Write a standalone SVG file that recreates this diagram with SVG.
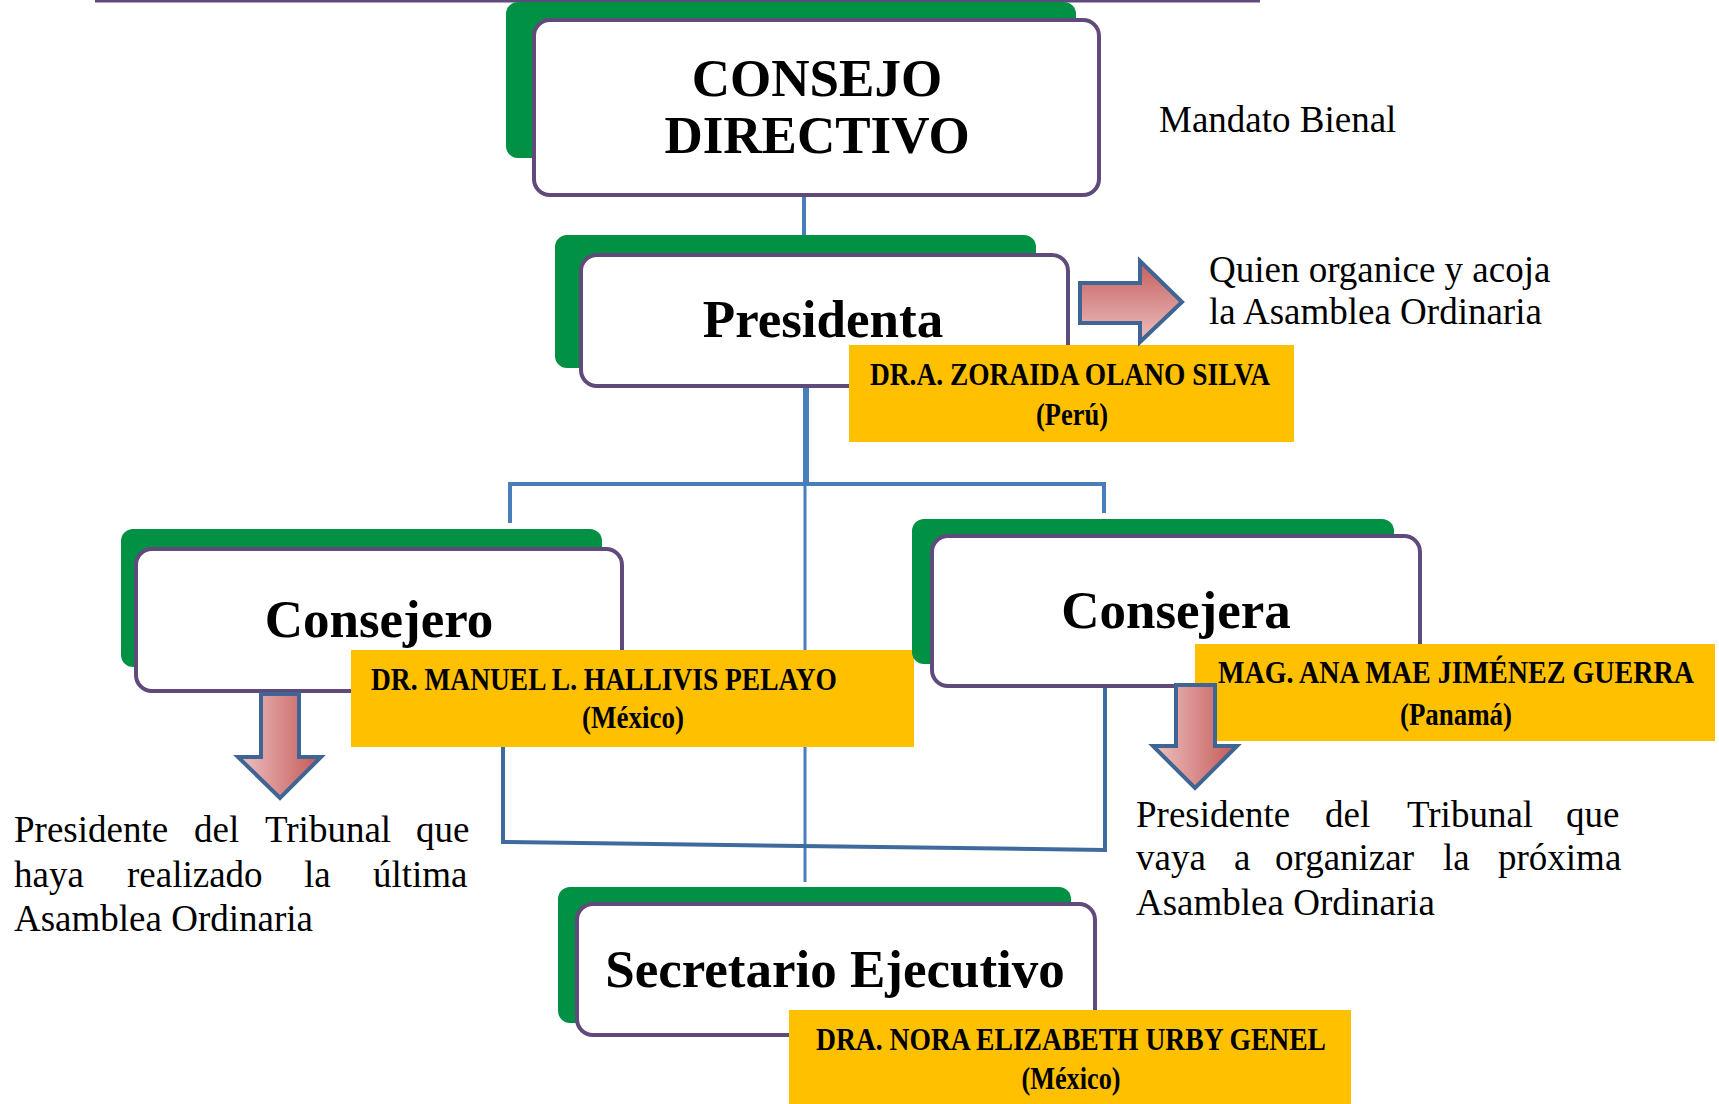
<svg xmlns="http://www.w3.org/2000/svg" width="1719" height="1104" viewBox="0 0 1719 1104">
  <defs>
    <linearGradient id="gradR" x1="0" y1="0" x2="0" y2="1">
      <stop offset="0" stop-color="#C65E5C"/>
      <stop offset="1" stop-color="#EBC0BF"/>
    </linearGradient>
    <linearGradient id="gradD" x1="0" y1="0" x2="1" y2="0">
      <stop offset="0" stop-color="#EDC3C2"/>
      <stop offset="1" stop-color="#C45856"/>
    </linearGradient>
    <style>
      .green{fill:#009145;}
      .box{fill:#FFFFFF;stroke:#604A7B;stroke-width:4;}
      .yellow{fill:#FFC000;}
      .title{font-family:"Liberation Serif","Times New Roman",serif;font-weight:bold;font-size:53px;fill:#000;text-anchor:middle;}
      .name{font-family:"Liberation Serif","Times New Roman",serif;font-weight:bold;font-size:31px;fill:#000;}
      .mid{text-anchor:middle;}
      .note{font-family:"Liberation Serif","Times New Roman",serif;font-size:37px;fill:#000;}
      .conn{stroke:#4A7EBB;fill:none;}
      .conn2{stroke:#3F6A9E;fill:none;stroke-width:4;}
      .arrow{stroke:#3E6593;stroke-width:4;stroke-linejoin:miter;}
    </style>
  </defs>
  <rect width="1719" height="1104" fill="#FFFFFF"/>

  <line x1="95" y1="1" x2="1260" y2="1" stroke="#604A7B" stroke-width="3"/>

  <g id="connectors">
    <line class="conn" x1="804" y1="197" x2="804" y2="236" stroke-width="4"/>
    <line class="conn" x1="806" y1="388" x2="806" y2="484" stroke-width="6"/>
    <polyline class="conn" points="510,523 510,484 1104,484 1104,513" stroke-width="4"/>
    <line class="conn" x1="805" y1="484" x2="805" y2="882" stroke-width="3"/>
    <polyline class="conn2" points="503,747 503,842 1105,850 1105,688"/>
  </g>

  <g id="consejo-directivo">
    <rect class="green" x="506" y="2" width="570" height="156" rx="12"/>
    <rect class="box" x="534" y="20" width="565" height="175" rx="16"/>
    <text class="title" x="817" y="96">CONSEJO</text>
    <text class="title" x="817" y="153">DIRECTIVO</text>
  </g>

  <g id="presidenta">
    <rect class="green" x="555" y="235" width="481" height="133" rx="12"/>
    <rect class="box" x="581" y="255" width="487" height="131" rx="16"/>
    <text class="title" x="823" y="337">Presidenta</text>
    <rect class="yellow" x="849" y="345" width="445" height="97"/>
    <text class="name mid" x="1070" y="385" textLength="400" lengthAdjust="spacingAndGlyphs">DR.A. ZORAIDA OLANO SILVA</text>
    <text class="name mid" x="1072" y="425" textLength="72" lengthAdjust="spacingAndGlyphs">(Perú)</text>
  </g>

  <g id="consejero">
    <rect class="green" x="121" y="529" width="481" height="138" rx="12"/>
    <rect class="box" x="136" y="549" width="486" height="142" rx="16"/>
    <text class="title" x="379" y="637">Consejero</text>
    <rect class="yellow" x="351" y="650" width="563" height="97"/>
    <text class="name mid" x="604" y="690" textLength="466" lengthAdjust="spacingAndGlyphs">DR. MANUEL L. HALLIVIS PELAYO</text>
    <text class="name mid" x="633" y="728" textLength="102" lengthAdjust="spacingAndGlyphs">(México)</text>
  </g>

  <g id="consejera">
    <rect class="green" x="912" y="519" width="482" height="145" rx="12"/>
    <rect class="box" x="932" y="536" width="488" height="150" rx="16"/>
    <text class="title" x="1176" y="628">Consejera</text>
    <rect class="yellow" x="1195" y="644" width="520" height="97"/>
    <text class="name mid" x="1456" y="683" textLength="476" lengthAdjust="spacingAndGlyphs">MAG. ANA MAE JIMÉNEZ GUERRA</text>
    <text class="name mid" x="1456" y="725" textLength="112" lengthAdjust="spacingAndGlyphs">(Panamá)</text>
  </g>

  <g id="secretario-ejecutivo">
    <rect class="green" x="558" y="887" width="513" height="136" rx="12"/>
    <rect class="box" x="577" y="904" width="518" height="131" rx="16"/>
    <text class="title" x="835" y="987">Secretario Ejecutivo</text>
    <rect class="yellow" x="789" y="1010" width="562" height="94"/>
    <text class="name mid" x="1071" y="1050" textLength="510" lengthAdjust="spacingAndGlyphs">DRA. NORA ELIZABETH URBY GENEL</text>
    <text class="name mid" x="1071" y="1089" textLength="99" lengthAdjust="spacingAndGlyphs">(México)</text>
  </g>

  <g id="nota-mandato">
    <text class="note" x="1159" y="132">Mandato Bienal</text>
  </g>

  <g id="nota-presidenta">
    <path class="arrow" fill="url(#gradR)" d="M1080,283 H1140 V261 L1182,302 L1140,342 V323 H1080 Z"/>
    <text class="note" x="1209" y="282">Quien organice y acoja</text>
    <text class="note" x="1209" y="324">la Asamblea Ordinaria</text>
  </g>

  <g id="nota-consejero">
    <path class="arrow" fill="url(#gradD)" d="M261,694 H299 V757 H321 L280,798 L238,757 H261 Z"/>
    <text class="note" y="842"><tspan x="14">Presidente</tspan> <tspan x="194">del</tspan> <tspan x="265">Tribunal</tspan> <tspan x="416">que</tspan></text>
    <text class="note" y="887"><tspan x="14">haya</tspan> <tspan x="127">realizado</tspan> <tspan x="304">la</tspan> <tspan x="373">última</tspan></text>
    <text class="note" x="14" y="931">Asamblea Ordinaria</text>
  </g>

  <g id="nota-consejera">
    <path class="arrow" fill="url(#gradD)" d="M1176,685 H1215 V746 H1237 L1195,788 L1153,746 H1176 Z"/>
    <text class="note" y="827"><tspan x="1136">Presidente</tspan> <tspan x="1325">del</tspan> <tspan x="1407">Tribunal</tspan> <tspan x="1566">que</tspan></text>
    <text class="note" y="870"><tspan x="1136">vaya</tspan> <tspan x="1234">a</tspan> <tspan x="1275">organizar</tspan> <tspan x="1443">la</tspan> <tspan x="1498">próxima</tspan></text>
    <text class="note" x="1136" y="915">Asamblea Ordinaria</text>
  </g>
</svg>
